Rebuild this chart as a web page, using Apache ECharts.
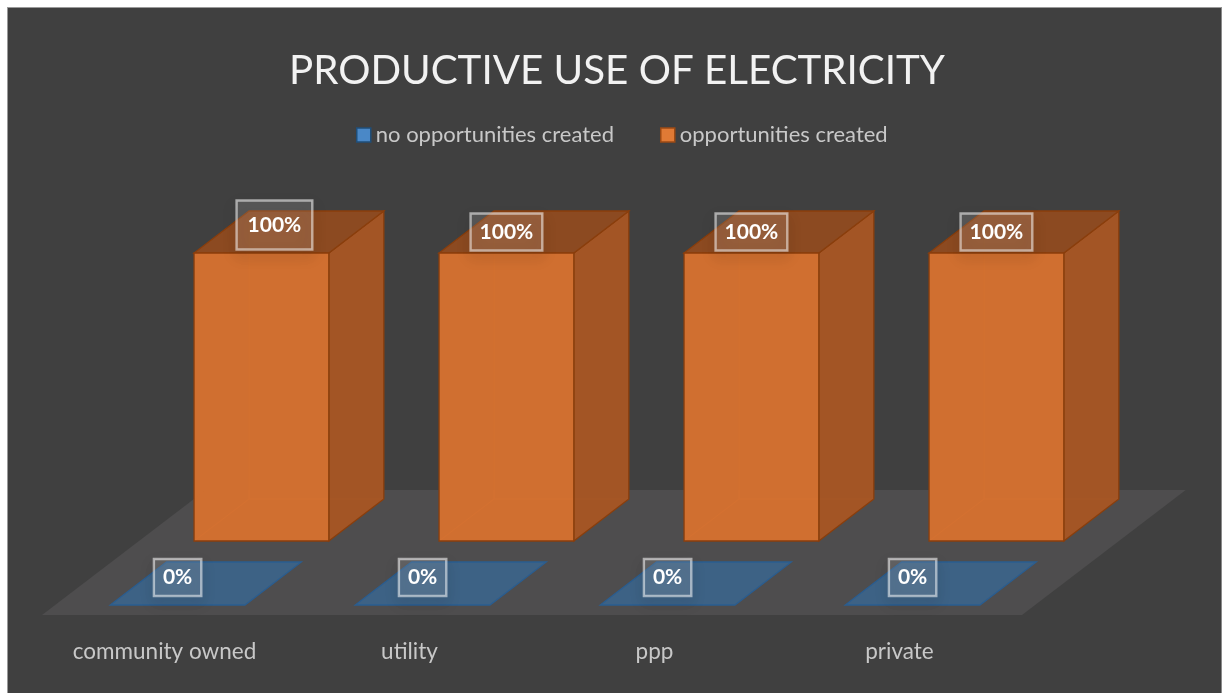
<!DOCTYPE html>
<html>
<head>
<meta charset="utf-8">
<script src="https://cdn.jsdelivr.net/npm/echarts@6/dist/echarts.min.js"></script>
<style>
  html, body { margin: 0; padding: 0; background: #ffffff; width: 1225px; height: 693px; overflow: hidden; }
  #panel { position: absolute; left: 7px; top: 7px; width: 1215px; height: 690px;
           background: #404040; border-left: 1px solid #9a9a9a; border-top: 1px solid #9a9a9a; border-right: 1px solid #8a8a8a; box-sizing: border-box; }
  #chart { position: absolute; left: 0; top: 0; width: 1225px; height: 693px; }
</style>
</head>
<body>
<div id="panel"></div>
<div id="chart"></div>
<script>
// Ownership models and the share of sites where electricity use created opportunities
const categories = ['community owned', 'utility', 'ppp', 'private'];
const noOpportunities = [0, 0, 0, 0];
const opportunities = [1, 1, 1, 1];
const seriesNames = ['no opportunities created', 'opportunities created'];

const FONT = 'Lato, "Open Sans", sans-serif';
const SLANT = 1.31;       // horizontal shift per pixel of depth
const FLOOR_DEPTH = 125;  // depth of the floor, in screen pixels
const BAR_RATIO = 0.55;   // box width as a share of the category band

// rows on the floor: front row (first series) and back row (second series)
const rows = [
  { front: 10, back: 53 },
  { front: 74, back: 116 }
];

const palettes = [
  { front: 'rgba(61,104,145,0.95)', side: 'rgba(46,84,122,0.95)', top: 'rgba(61,99,135,0.97)', edge: '#2a5d90' },
  { front: 'rgba(213,113,47,0.97)', side: 'rgba(166,86,36,0.97)', top: 'rgba(142,74,32,0.97)', edge: '#8a3e0c' }
];

// the first label of the back row was dragged a little and its box enlarged
function labelTweak(rowIdx, idx) {
  if (rowIdx === 1 && idx === 0) return { dx: 13, dy: -7, padding: [18, 11, 10, 11] };
  return { dx: 0, dy: 0, padding: [8, 9, 8, 9] };
}

function project(x, depth, h, baseY) {
  return [x + depth * SLANT, baseY - depth - h];
}

function boxRenderer(rowIdx) {
  return function (params, api) {
    const idx = api.value(0);
    const val = api.value(1);
    const base = api.coord([idx, 0]);
    const band = api.size([1, 0])[0];
    const h = api.size([0, val])[1];
    const half = band * BAR_RATIO / 2;
    const x0 = base[0] - half, x1 = base[0] + half;
    const by = base[1];
    const r = rows[rowIdx];
    const pal = palettes[rowIdx];

    const fbl = project(x0, r.front, 0, by), fbr = project(x1, r.front, 0, by);
    const ftl = project(x0, r.front, h, by), ftr = project(x1, r.front, h, by);
    const bbl = project(x0, r.back, 0, by), bbr = project(x1, r.back, 0, by);
    const btl = project(x0, r.back, h, by), btr = project(x1, r.back, h, by);

    const children = [];
    const edgeStyle = { fill: null, stroke: pal.edge, lineWidth: 1.3 };
    const hidden = { stroke: 'rgba(235,125,50,0.8)', lineWidth: 1 };
    if (h > 0.5) {
      // hidden back edges, faintly visible through the faces
      children.push({ type: 'polyline', shape: { points: [bbl, btl] }, style: hidden });
      children.push({ type: 'polyline', shape: { points: [bbl, fbl] }, style: hidden });
      children.push({ type: 'polyline', shape: { points: [bbl, bbr] }, style: hidden });
      children.push({ type: 'polygon', shape: { points: [fbr, bbr, btr, ftr] }, style: Object.assign({}, edgeStyle, { fill: pal.side }) });
      children.push({ type: 'polygon', shape: { points: [ftl, ftr, btr, btl] }, style: Object.assign({}, edgeStyle, { fill: pal.top }) });
      children.push({ type: 'polygon', shape: { points: [fbl, fbr, ftr, ftl] }, style: Object.assign({}, edgeStyle, { fill: pal.front }) });
    } else {
      children.push({ type: 'polygon', shape: { points: [fbl, fbr, bbr, bbl] }, style: Object.assign({}, edgeStyle, { fill: pal.top }) });
    }

    // value label in a translucent box over the top face
    const tw = labelTweak(rowIdx, idx);
    const lx = (ftl[0] + ftr[0]) / 2 + tw.dx;
    const ly = (ftl[1] + btl[1]) / 2 - (h > 0.5 ? 0 : 6) + tw.dy;
    children.push({
      type: 'text',
      x: lx, y: ly,
      z2: 10,
      style: {
        text: Math.round(val * 100) + '%',
        font: 'bold 21px ' + FONT,
        fill: '#ffffff',
        align: 'center',
        verticalAlign: 'middle',
        backgroundColor: 'rgba(255,255,255,0.12)',
        borderColor: 'rgba(255,255,255,0.55)',
        borderWidth: 1.2,
        padding: tw.padding,
        shadowColor: 'rgba(0,0,0,0.35)',
        shadowBlur: 14,
        shadowOffsetY: 6
      }
    });
    return { type: 'group', children: children };
  };
}

function floorRenderer(params, api) {
  if (params.dataIndex !== 0) return null;
  const cs = params.coordSys;
  const by = cs.y + cs.height;
  const l = cs.x, r = cs.x + cs.width;
  return {
    type: 'polygon',
    silent: true,
    shape: { points: [[l, by], [r, by], project(r, FLOOR_DEPTH, 0, by), project(l, FLOOR_DEPTH, 0, by)] },
    style: { fill: '#4e4d4e' }
  };
}

const chart = echarts.init(document.getElementById('chart'), null, { renderer: 'canvas' });

chart.setOption({
  backgroundColor: 'transparent',
  animation: false,
  title: {
    text: 'PRODUCTIVE USE OF ELECTRICITY',
    left: 284,
    top: 46,
    textStyle: { color: '#f2f2f2', fontFamily: FONT, fontSize: 40.3, fontWeight: 'normal' }
  },
  legend: {
    data: seriesNames,
    top: 119,
    left: 351,
    itemWidth: 14,
    itemHeight: 14,
    itemGap: 46,
    icon: 'rect',
    itemStyle: { borderWidth: 1.5 },
    textStyle: { color: '#c8c8c8', fontFamily: FONT, fontSize: 22 }
  },
  grid: { left: 42, right: 203, top: 327, bottom: 78 },
  xAxis: {
    type: 'category',
    data: categories,
    axisLine: { show: false },
    axisTick: { show: false },
    axisLabel: { color: '#c8c8c8', fontFamily: FONT, fontSize: 22.5, margin: 25 }
  },
  yAxis: { type: 'value', min: 0, max: 1, show: false, splitLine: { show: false } },
  series: [
    {
      name: 'floor',
      type: 'custom',
      silent: true,
      renderItem: floorRenderer,
      data: categories.map((c, i) => [i, 0]),
      z: 1
    },
    {
      name: seriesNames[1],
      type: 'custom',
      renderItem: boxRenderer(1),
      itemStyle: { color: '#E07A35', borderColor: '#9c4a14', borderWidth: 1.5 },
      data: opportunities.map((v, i) => [i, v]),
      z: 2
    },
    {
      name: seriesNames[0],
      type: 'custom',
      renderItem: boxRenderer(0),
      itemStyle: { color: '#4a88c7', borderColor: '#1f4e79', borderWidth: 1.5 },
      data: noOpportunities.map((v, i) => [i, v]),
      z: 3
    }
  ]
});
</script>
</body>
</html>
